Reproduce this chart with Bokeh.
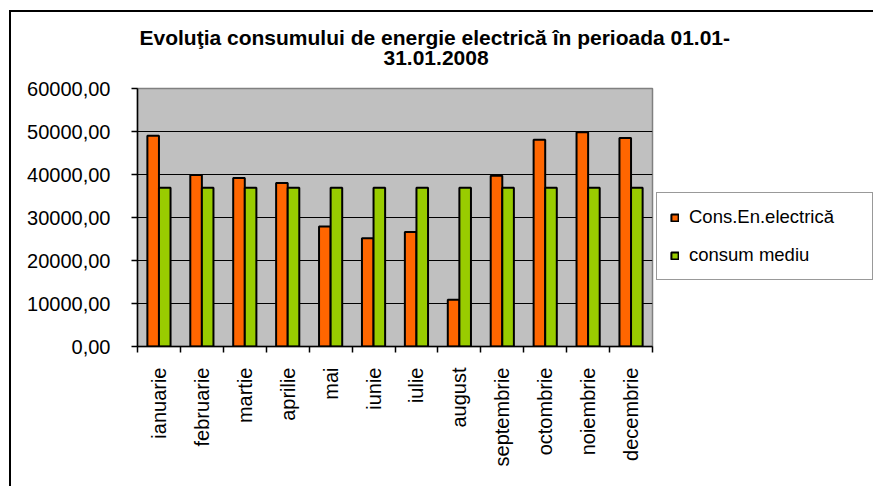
import math
from bokeh.plotting import figure
from bokeh.models import ColumnDataSource, FixedTicker, Title, Legend, LegendItem, Range1d
from bokeh.transform import dodge
from bokeh.embed import file_html
from bokeh.resources import INLINE

months = ["ianuarie", "februarie", "martie", "aprilie", "mai", "iunie",
          "iulie", "august", "septembrie", "octombrie", "noiembrie", "decembrie"]
consum = [49000, 39900, 39200, 38000, 27900, 25200, 26600, 10900, 39700, 48100, 49800, 48500]
mediu = [36900, 36900, 36900, 36900, 36900, 36900, 36900, 36900, 36900, 36900, 36900, 36900]
series_names = ["Cons.En.electrică", "consum mediu"]
y_ticks = [0, 10000, 20000, 30000, 40000, 50000, 60000]
y_tick_labels = ["0,00", "10000,00", "20000,00", "30000,00", "40000,00", "50000,00", "60000,00"]
title_lines = ["Evoluţia consumului  de energie electrică în perioada 01.01-", "31.01.2008"]

FONT = "Liberation Sans"
centers = [i + 0.5 for i in range(len(months))]
bounds = [float(i) for i in range(len(months) + 1)]

src = ColumnDataSource(dict(x=centers, consum=consum, mediu=mediu, month=months))

p = figure(frame_width=515, frame_height=258, x_range=Range1d(0, len(months)),
           y_range=Range1d(y_ticks[0], y_ticks[-1]),
           output_backend="svg", toolbar_location=None,
           min_border_left=126, min_border_right=216, min_border_top=76, min_border_bottom=140,
           background_fill_color="#C0C0C0", border_fill_color="white",
           outline_line_color="#808080", outline_line_width=1.5)
p.styles = {"border-top": "2px solid #000000", "border-left": "2px solid #000000",
            "margin-left": "9px", "margin-top": "10px"}

r1 = p.vbar(x=dodge("x", -0.135, range=p.x_range), top="consum", width=0.27, source=src,
            fill_color="#FF6600", line_color="black", line_width=2)
r2 = p.vbar(x=dodge("x", 0.135, range=p.x_range), top="mediu", width=0.27, source=src,
            fill_color="#99CC00", line_color="black", line_width=2)

# x axis
xa = p.xaxis[0]
xa.ticker = FixedTicker(ticks=centers, minor_ticks=bounds)
xa.major_label_overrides = {c: m for c, m in zip(centers, months)}
xa.major_tick_line_color = None
xa.major_tick_out = 6
xa.major_tick_in = 0
xa.minor_tick_in = 0
xa.minor_tick_out = 6
xa.minor_tick_line_color = "black"
xa.minor_tick_line_width = 1.5
xa.axis_line_color = "black"
xa.axis_line_width = 1.5
xa.major_label_orientation = math.pi / 2
xa.major_label_standoff = 15
xa.major_label_text_font = FONT
xa.major_label_text_font_size = "20px"
xa.major_label_text_color = "black"

# y axis
ya = p.yaxis[0]
ya.ticker = FixedTicker(ticks=y_ticks, minor_ticks=[])
ya.major_label_overrides = {t: l for t, l in zip(y_ticks, y_tick_labels)}
ya.major_tick_out = 6
ya.major_tick_in = 0
ya.major_tick_line_color = "black"
ya.major_tick_line_width = 1.5
ya.minor_tick_line_color = None
ya.axis_line_color = "black"
ya.axis_line_width = 1.5
ya.major_label_standoff = 21
ya.major_label_text_font = FONT
ya.major_label_text_font_size = "20px"
ya.major_label_text_color = "black"

p.xgrid.visible = False
p.ygrid.ticker = FixedTicker(ticks=y_ticks[1:-1])
p.ygrid.grid_line_color = "black"
p.ygrid.grid_line_width = 1.2

# titles (first added is closest to frame); a thin spacer keeps the gap to the frame
spacer = Title(text=" ", text_font_size="1px", standoff=21)
t2 = Title(text=title_lines[1], align="left", offset=246, standoff=0,
           text_font=FONT, text_font_size="21px", text_font_style="bold", text_color="black")
t1 = Title(text=title_lines[0], align="left", offset=2, standoff=0,
           text_font=FONT, text_font_size="21px", text_font_style="bold", text_color="black")
p.add_layout(spacer, "above")
p.add_layout(t2, "above")
p.add_layout(t1, "above")

legend = Legend(items=[LegendItem(label=series_names[0], renderers=[r1]),
                       LegendItem(label=series_names[1], renderers=[r2])],
                location=(4, 66), orientation="vertical",
                border_line_color="#333333", border_line_width=1.5,
                background_fill_color="white", background_fill_alpha=1,
                label_text_font=FONT, label_text_font_size="18.5px", label_text_color="black",
                glyph_width=9, glyph_height=9, padding=13, spacing=16, label_standoff=10, margin=0,
                label_height=21, label_width=170)
p.add_layout(legend, "right")

open("out.html", "w").write(file_html(p, INLINE))
